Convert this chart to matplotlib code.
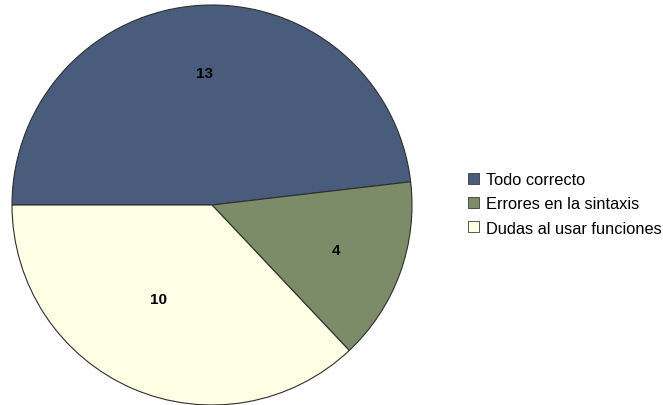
import matplotlib
matplotlib.use("Agg")
import matplotlib.pyplot as plt
import numpy as np

categories = ["Todo correcto", "Errores en la sintaxis", "Dudas al usar funciones"]
values = [13, 4, 10]
colors = ["#4A5C7C", "#7C8C68", "#FFFFE6"]

plt.rcParams['font.family'] = ['Liberation Sans', 'DejaVu Sans']

fig = plt.figure(figsize=(6.63, 4.06), dpi=100)
ax = fig.add_axes([12 / 663, 0, 400 / 663, 400 / 406])

wedges, _ = ax.pie(values, colors=colors, startangle=180, counterclock=False,
                   radius=1.0, center=(0, 0), frame=False,
                   wedgeprops=dict(edgecolor="#2E2E2E", linewidth=0.8))
ax.set_xlim(-1, 1)
ax.set_ylim(-1, 1)
ax.set_aspect('equal')
ax.axis('off')
for w in wedges:
    w.set_clip_on(False)

# value labels placed inside each wedge
label_pos = [(0.0, 0.66), (0.0, 0.66), (-6.5, 0.54)]  # (angle offset deg, radius)
for w, v, (da, r) in zip(wedges, values, label_pos):
    ang = np.deg2rad((w.theta1 + w.theta2) / 2 + da)
    ax.text(r * np.cos(ang), r * np.sin(ang), str(v), ha='center', va='center',
            fontsize=11, fontweight='bold', color='black')

handles = [plt.Rectangle((0, 0), 1, 1, facecolor=c, edgecolor="#3A3A3A", linewidth=0.6)
           for c in colors]
fig.legend(handles, categories, loc='center left', bbox_to_anchor=(468 / 663, 1 - 205 / 406),
           frameon=False, fontsize=11.8, handlelength=0.68, handleheight=0.68,
           handletextpad=0.4, labelspacing=0.55, borderaxespad=0, borderpad=0)

fig.savefig("out.png", dpi=100)
